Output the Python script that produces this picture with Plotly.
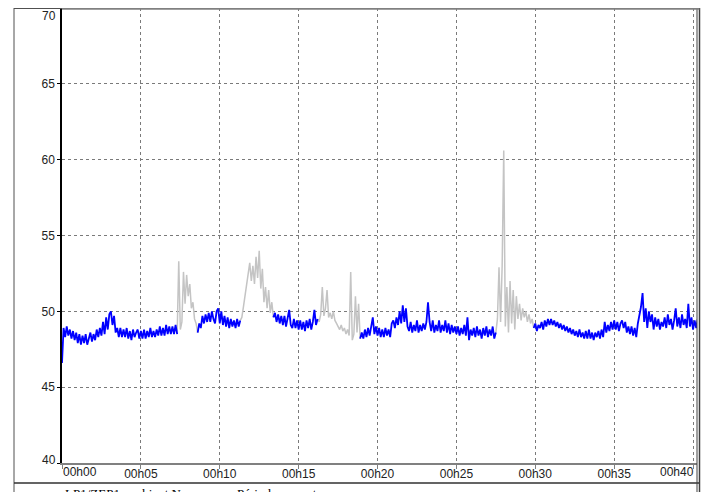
import plotly.graph_objects as go

# Time step between samples (minutes)
step_min = 0.1

# Sound level readings (dB), one every 0.1 min from 00h00 to 00h40.3
levels = [
    # 0
    46.6, 48.9, 48.3, 49.0, 48.4, 48.8, 48.2, 48.7, 48.1, 48.6,
    # 1
    47.9, 48.5, 47.8, 48.4, 47.9, 48.5, 47.8, 48.3, 48.6, 48.0,
    # 2
    48.5, 48.1, 48.8, 48.3, 48.9, 48.4, 49.3, 48.5, 49.6, 48.8,
    # 3
    49.8, 50.0, 49.1, 49.7, 48.6, 48.9, 48.3, 48.9, 48.3, 48.8,
    # 4
    48.3, 48.9, 48.2, 48.7, 48.1, 48.8, 48.3, 48.6, 48.8, 48.2,
    # 5
    48.7, 48.2, 48.8, 48.2, 48.7, 48.3, 48.9, 48.3, 48.7, 48.3,
    # 6
    48.8, 48.4, 49.0, 48.4, 48.9, 48.4, 49.1, 48.5, 49.0, 48.5,
    # 7
    49.0, 48.5, 49.1, 48.5, 53.3, 48.8, 49.3, 52.6, 50.5, 52.4,
    # 8
    51.0, 51.8, 50.2, 50.6, 49.5, 49.2, 48.6, 49.2, 48.9, 49.7,
    # 9
    49.2, 49.8, 49.3, 49.9, 49.3, 50.0, 49.5, 49.2, 50.0, 50.2,
    # 10
    49.2, 50.0, 49.1, 49.7, 49.0, 49.6, 48.9, 49.5, 49.0, 49.4,
    # 11
    48.9, 49.5, 49.0, 49.4, 49.6, 50.3, 51.0, 51.8, 52.5, 53.2,
    # 12
    52.0, 53.0, 51.8, 53.6, 52.2, 54.0, 51.5, 52.8, 50.6, 51.6,
    # 13
    50.2, 51.4, 49.9, 50.6, 49.6, 49.9, 49.3, 49.8, 49.2, 49.7,
    # 14
    49.1, 49.7, 49.0, 49.6, 50.1, 49.1, 48.9, 49.5, 48.9, 49.4,
    # 15
    48.8, 49.4, 48.8, 49.3, 48.7, 49.4, 48.9, 49.5, 48.8, 49.3,
    # 16
    50.1, 49.1, 49.5, 49.3, 49.8, 51.6, 49.7, 50.2, 51.4, 49.6,
    # 17
    49.9, 49.5, 50.0, 49.4, 49.2, 49.0, 48.8, 49.1, 48.7, 48.9,
    # 18
    48.5, 48.8, 48.4, 52.6, 48.1, 48.5, 51.0, 48.6, 50.5, 48.2,
    # 19
    48.6, 48.2, 48.8, 48.3, 48.9, 48.4, 49.1, 49.6, 48.5, 49.0,
    # 20
    48.4, 48.9, 48.3, 48.8, 48.3, 48.9, 48.4, 48.8, 48.3, 49.2,
    # 21
    49.4, 48.9, 49.6, 49.1, 50.0, 49.2, 50.4, 49.3, 50.2, 49.0,
    # 22
    48.7, 49.3, 48.6, 49.1, 48.7, 49.4, 48.6, 49.1, 48.7, 49.2,
    # 23
    48.8, 49.3, 50.6, 49.3, 48.7, 49.4, 48.6, 49.1, 48.7, 49.4,
    # 24
    48.6, 49.1, 48.7, 49.4, 48.6, 49.2, 48.5, 49.1, 48.6, 49.0,
    # 25
    48.5, 49.0, 48.4, 48.9, 48.5, 49.1, 48.4, 49.6, 48.1, 48.8,
    # 26
    48.4, 48.9, 48.3, 49.0, 48.4, 48.8, 48.2, 48.9, 48.4, 49.0,
    # 27
    48.3, 48.8, 48.4, 49.0, 48.2, 48.6, 49.5, 52.9, 49.3, 53.0,
    # 28
    60.6, 49.0, 51.6, 48.6, 52.0, 49.2, 51.4, 48.8, 51.0, 49.5,
    # 29
    50.5, 49.4, 50.2, 49.6, 50.0, 49.3, 49.8, 49.2, 49.5, 48.9,
    # 30
    49.2, 48.7, 49.1, 48.9, 49.3, 48.8, 49.4, 49.0, 49.5, 49.1,
    # 31
    49.5, 49.1, 49.4, 49.0, 49.3, 48.9, 49.2, 48.8, 49.1, 48.7,
    # 32
    49.0, 48.6, 48.9, 48.5, 48.8, 48.4, 48.7, 48.3, 48.8, 48.3,
    # 33
    48.6, 48.2, 48.7, 48.2, 48.8, 48.2, 48.6, 48.1, 48.6, 48.3,
    # 34
    48.7, 48.2, 48.8, 48.3, 49.3, 48.6, 49.1, 48.7, 49.3, 48.8,
    # 35
    49.4, 48.8, 49.3, 48.7, 49.2, 49.4, 48.9, 49.3, 48.6, 49.0,
    # 36
    48.5, 49.0, 48.4, 48.9, 48.3, 49.2, 49.7, 50.3, 51.2, 49.3,
    # 37
    50.2, 48.9, 50.0, 49.3, 49.8, 48.8, 49.6, 49.0, 49.5, 48.8,
    # 38
    49.3, 49.0, 49.6, 48.9, 49.8, 49.1, 49.5, 48.8, 49.4, 50.2,
    # 39
    49.0, 49.6, 48.9, 49.8, 49.1, 49.5, 48.9, 50.5, 49.0, 49.6,
    # 40
    48.8, 49.4, 48.9, 49.5,
]

# Excluded periods ("Période non retenue"), as sample index ranges (start, end)
excluded_periods = [(73, 86), (113, 134), (162, 189), (275, 299)]

# Axis ticks
x_tick_values = [0, 5, 10, 15, 20, 25, 30, 35, 40]
x_tick_labels = ["00h00", "00h05", "00h10", "00h15", "00h20",
                 "00h25", "00h30", "00h35", "00h40"]
y_tick_values = [40, 45, 50, 55, 60, 65, 70]
y_tick_labels = ["40", "45", "50", "55", "60", "65", "70"]

series_name = "LP1/ZEP1, ambiant N"
excluded_name = "Période non retenue"

times = [round(i * step_min, 3) for i in range(len(levels))]

excluded_idx = set()
interior_excl = set()
for a, b in excluded_periods:
    excluded_idx.update(range(a, b + 1))
    interior_excl.update(range(a + 1, b))

blue_y = [None if i in interior_excl else v for i, v in enumerate(levels)]
gray_y = [v if i in excluded_idx else None for i, v in enumerate(levels)]

fig = go.Figure()
fig.add_trace(go.Scatter(x=times, y=gray_y, mode="lines", name=excluded_name,
                         line=dict(color="#c4c4c4", width=1.5),
                         connectgaps=False, showlegend=False))
fig.add_trace(go.Scatter(x=times, y=blue_y, mode="lines", name=series_name,
                         line=dict(color="#0000ff", width=1.8),
                         connectgaps=False, showlegend=False))

# The page body has an 8px default margin, so the figure is sized/offset for it.
OFF = 8
W, H = 709 - OFF, 492 - OFF
plot_left, plot_top, plot_right, plot_bottom = 62 - OFF, 8 - OFF, 697 - OFF, 463 - OFF
ml, mt = plot_left, plot_top
mr, mb = W - plot_right, H - plot_bottom
pw, ph = plot_right - plot_left, plot_bottom - plot_top


def px_x(page_x):
    return (page_x - OFF - ml) / pw


def px_y(page_y):
    return (plot_bottom - (page_y - OFF)) / ph


# Edge tick labels are nudged inward (as in the original) so they stay visible
x_ticktext_inner = [""] + x_tick_labels[1:-1] + [""]
y_ticktext_inner = [""] + y_tick_labels[1:-1] + [""]

frame = dict(color="#505050", width=1)
shapes = [
    dict(type="line", xref="paper", yref="paper", x0=px_x(14), x1=px_x(14), y0=px_y(8), y1=px_y(492), line=frame),
    dict(type="line", xref="paper", yref="paper", x0=px_x(14), x1=px_x(62), y0=px_y(8.5), y1=px_y(8.5), line=frame),
    dict(type="line", xref="paper", yref="paper", x0=px_x(14), x1=px_x(699), y0=px_y(483), y1=px_y(483), line=dict(color="#303030", width=1.5)),
    dict(type="line", xref="paper", yref="paper", x0=px_x(697), x1=px_x(697), y0=px_y(8), y1=px_y(492), line=dict(color="#404040", width=1)),
    dict(type="line", xref="paper", yref="paper", x0=px_x(699.5), x1=px_x(699.5), y0=px_y(8), y1=px_y(492), line=dict(color="#404040", width=1.5)),
    dict(type="line", xref="paper", yref="paper", x0=0, x1=px_x(699.5), y0=px_y(8.8), y1=px_y(8.8), line=dict(color="#808080", width=2)),
]

tick_font = dict(family="Liberation Sans, Arial, sans-serif", size=12, color="#222222")
legend_font = dict(family="Liberation Serif, Times New Roman, serif", size=13, color="#000")

fig.update_layout(
    template="none",
    width=W, height=H,
    margin=dict(l=ml, r=mr, t=mt, b=mb, pad=0, autoexpand=False),
    paper_bgcolor="white", plot_bgcolor="white",
    font=tick_font,
    showlegend=False,
    shapes=shapes,
    xaxis=dict(range=[0, 40.25], tickvals=x_tick_values, ticktext=x_ticktext_inner,
               automargin=False, ticklabelstandoff=-5,
               showgrid=True, gridcolor="#7a7a7a", griddash="dot", gridwidth=1,
               zeroline=False, showline=True, linecolor="#808080", linewidth=2,
               ticks="outside", ticklen=4, tickcolor="#808080", tickfont=tick_font),
    yaxis=dict(range=[40, 70], tickvals=y_tick_values, ticktext=y_ticktext_inner,
               automargin=False,
               showgrid=True, gridcolor="#7a7a7a", griddash="dot", gridwidth=1,
               zeroline=False, showline=True, linecolor="#000000", linewidth=1.5,
               ticks="outside", ticklen=3, tickcolor="#000000", tickfont=tick_font),
    annotations=[
        dict(text=y_tick_labels[-1], xref="paper", yref="paper", x=px_x(58), y=px_y(15.5),
             xanchor="right", yanchor="middle", showarrow=False, font=tick_font),
        dict(text=y_tick_labels[0], xref="paper", yref="paper", x=px_x(58), y=px_y(459.5),
             xanchor="right", yanchor="middle", showarrow=False, font=tick_font),
        dict(text=x_tick_labels[0], xref="paper", yref="paper", x=px_x(61), y=px_y(472.5),
             xanchor="left", yanchor="middle", showarrow=False, font=tick_font),
        dict(text=x_tick_labels[-1], xref="paper", yref="paper", x=px_x(696), y=px_y(472.5),
             xanchor="right", yanchor="middle", showarrow=False, font=tick_font),
        dict(text=series_name, xref="paper", yref="paper", x=px_x(63), y=px_y(484),
             xanchor="left", yanchor="top", showarrow=False, font=legend_font),
        dict(text=excluded_name, xref="paper", yref="paper", x=px_x(235), y=px_y(484),
             xanchor="left", yanchor="top", showarrow=False, font=legend_font),
    ],
)

fig.write_html("out.html")
